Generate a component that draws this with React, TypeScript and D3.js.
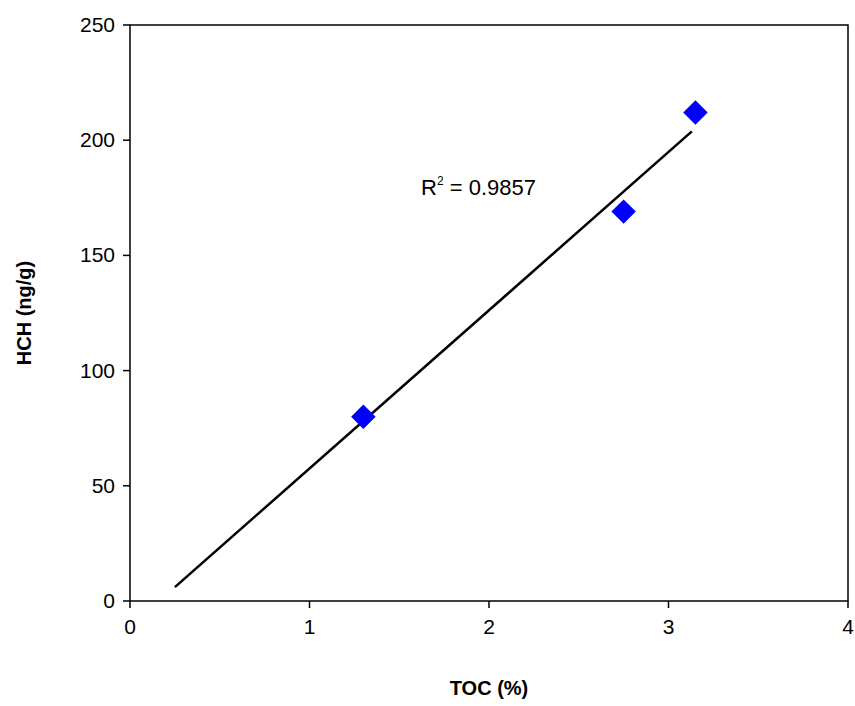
import React from "react";
import * as d3 from "d3";

const tocValues = [1.3, 2.75, 3.15];
const hchValues = [80, 169, 212];
const xTicks = [0, 1, 2, 3, 4];
const yTicks = [0, 50, 100, 150, 200, 250];
const trendRange = [0.25, 3.13];

const width = 855;
const height = 706;
const margin = { top: 25, right: 7, bottom: 105, left: 130 };

export default function App() {
  const x = d3.scaleLinear().domain([0, 4]).range([margin.left, width - margin.right]);
  const y = d3.scaleLinear().domain([0, 250]).range([height - margin.bottom, margin.top]);

  // least squares fit
  const mx = d3.mean(tocValues)!;
  const my = d3.mean(hchValues)!;
  const sxy = d3.sum(tocValues, (v, i) => (v - mx) * (hchValues[i] - my));
  const sxx = d3.sum(tocValues, (v) => (v - mx) ** 2);
  const slope = sxy / sxx;
  const intercept = my - slope * mx;
  const line = d3
    .line<number>()
    .x((d) => x(d))
    .y((d) => y(slope * d + intercept));

  const diamond = d3.symbol(d3.symbolSquare, 300)();
  const font = "Liberation Sans, Arial, sans-serif";

  return (
    <svg width={width} height={height} style={{ position: "absolute", left: 0, top: 0 }} fontFamily={font}>
      <rect x={0} y={0} width={width} height={height} fill="white" />
      <rect
        x={x(0)}
        y={y(250)}
        width={x(4) - x(0)}
        height={y(0) - y(250)}
        fill="none"
        stroke="black"
        strokeWidth={1.5}
      />
      {xTicks.map((t) => (
        <g key={t}>
          <line x1={x(t)} x2={x(t)} y1={y(0)} y2={y(0) + 7} stroke="black" strokeWidth={1.5} />
          <text x={x(t)} y={y(0) + 33} textAnchor="middle" fontSize={21}>
            {t}
          </text>
        </g>
      ))}
      {yTicks.map((t) => (
        <g key={t}>
          <line x1={x(0) - 7} x2={x(0)} y1={y(t)} y2={y(t)} stroke="black" strokeWidth={1.5} />
          <text x={x(0) - 15} y={y(t) + 7} textAnchor="end" fontSize={21}>
            {t}
          </text>
        </g>
      ))}
      <path d={line(trendRange)!} stroke="black" strokeWidth={2.5} fill="none" />
      {tocValues.map((v, i) => (
        <path
          key={i}
          d={diamond!}
          transform={`translate(${x(v)},${y(hchValues[i])}) rotate(45)`}
          fill="#0000ff"
        />
      ))}
      <text x={421} y={195} fontSize={22}>
        R<tspan dy={-10} fontSize={12}>2</tspan>
        <tspan dy={10}> = 0.9857</tspan>
      </text>
      <text x={(x(0) + x(4)) / 2} y={695} textAnchor="middle" fontSize={20} fontWeight="bold">
        TOC (%)
      </text>
      <text
        transform={`translate(31,${(y(0) + y(250)) / 2}) rotate(-90)`}
        textAnchor="middle"
        fontSize={20}
        fontWeight="bold"
      >
        HCH (ng/g)
      </text>
    </svg>
  );
}
